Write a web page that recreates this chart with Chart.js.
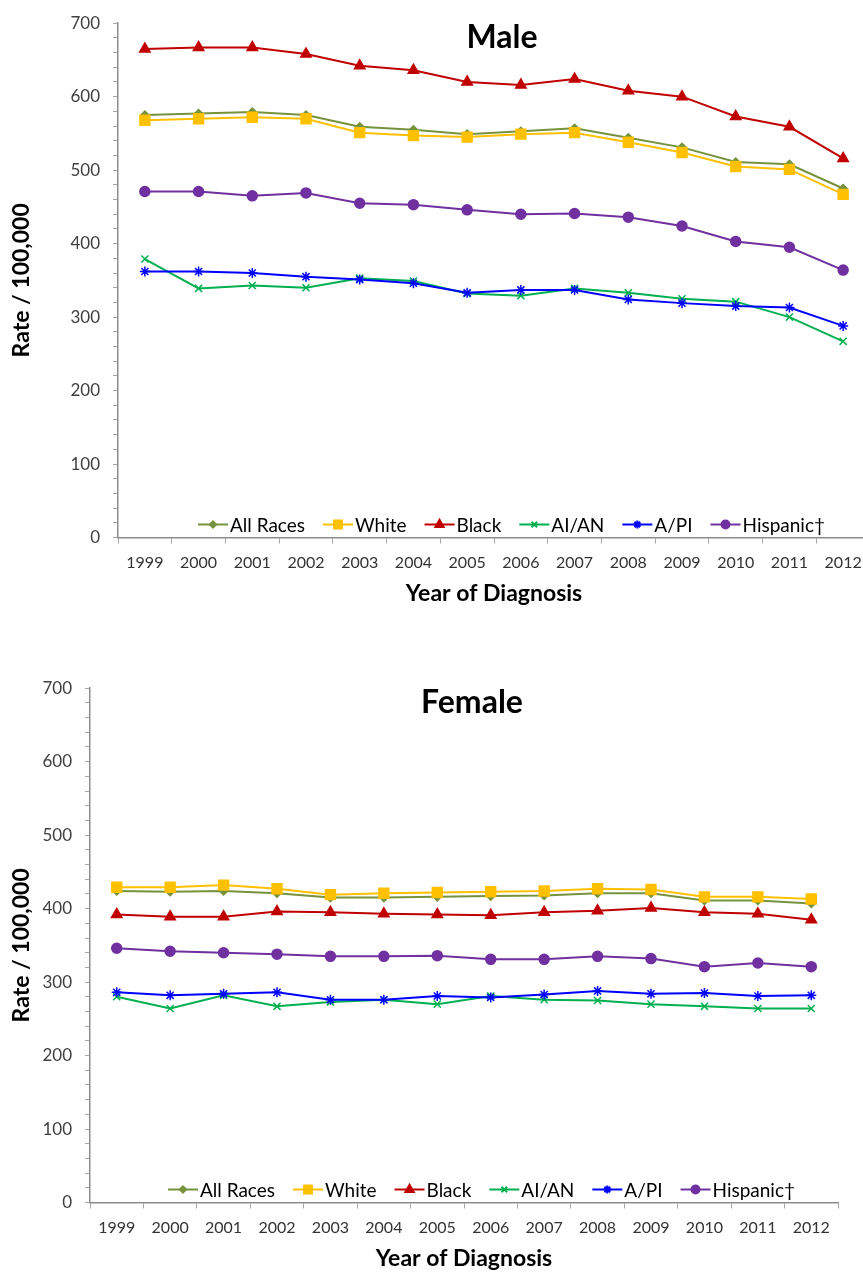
<!DOCTYPE html>
<html>
<head>
<meta charset="utf-8">
<script src="https://cdn.jsdelivr.net/npm/chart.js@4/dist/chart.umd.min.js"></script>
<style>
html, body { margin: 0; padding: 0; background: #fff; overflow: hidden; width: 863px; height: 1272px; }
canvas { position: absolute; left: 0; }
#male { top: 0; }
#female { top: 665px; }
</style>
</head>
<body>
<canvas id="male" width="880" height="610"></canvas>
<canvas id="female" width="863" height="610"></canvas>
<script>
// years and series names
const years = ['1999','2000','2001','2002','2003','2004','2005','2006','2007','2008','2009','2010','2011','2012'];
const seriesNames = ['All Races', 'White', 'Black', 'AI/AN', 'A/PI', 'Hispanic\u2020'];

// male rates per 100,000
const maleAll   = [575, 577, 579, 575, 559, 555, 549, 553, 557, 544, 531, 511, 508, 475];
const maleWhite = [568, 570, 572, 570, 551, 547, 545, 549, 551, 538, 524, 505, 501, 467];
const maleBlack = [665, 667, 667, 658, 642, 636, 620, 616, 624, 608, 600, 573, 559, 516];
const maleAIAN  = [379, 339, 343, 340, 353, 349, 332, 329, 339, 333, 325, 321, 300, 267];
const maleAPI   = [362, 362, 360, 355, 351, 346, 333, 337, 337, 324, 319, 315, 313, 288];
const maleHisp  = [471, 471, 465, 469, 455, 453, 446, 440, 441, 436, 424, 403, 395, 364];

// female rates per 100,000
const femaleAll   = [424, 423, 424, 421, 415, 415, 416, 417, 418, 421, 421, 411, 411, 407];
const femaleWhite = [429, 429, 432, 427, 419, 421, 422, 423, 424, 427, 426, 416, 416, 413];
const femaleBlack = [392, 389, 389, 396, 395, 393, 392, 391, 395, 397, 401, 395, 393, 385];
const femaleAIAN  = [280, 264, 282, 267, 273, 276, 270, 281, 276, 275, 270, 267, 264, 264];
const femaleAPI   = [286, 282, 284, 286, 276, 276, 281, 279, 283, 288, 284, 285, 281, 282];
const femaleHisp  = [346, 342, 340, 338, 335, 335, 336, 331, 331, 335, 332, 321, 326, 321];

const colors = ['#76923C', '#FFC000', '#C00000', '#00B050', '#0000FF', '#7030A0'];
const markers = ['rectRot', 'rect', 'triangle', 'crossRot', 'star', 'circle'];
const radii = [4, 7, 6, 5, 5, 5];

Chart.defaults.font.family = 'Lato, "Open Sans", sans-serif';

// legend drawn inside the plot, near the bottom
const insideLegend = {
  id: 'insideLegend',
  afterDatasetsDraw(chart, args, opts) {
    const ctx = chart.ctx, area = chart.chartArea;
    ctx.save();
    ctx.font = '19px Lato';
    const sets = chart.data.datasets;
    const lineLen = 30, gap = 17;
    const widths = sets.map(ds => lineLen + 3 + ctx.measureText(ds.label).width);
    const total = widths.reduce((a, b) => a + b, 0) + gap * (sets.length - 1);
    let x = (area.left + area.right) / 2 + opts.shift - total / 2;
    const y = area.bottom - opts.lift;
    sets.forEach((ds, i) => {
      ctx.strokeStyle = ds.borderColor;
      ctx.fillStyle = ds.borderColor;
      ctx.lineWidth = 2;
      ctx.beginPath();
      ctx.moveTo(x, y);
      ctx.lineTo(x + lineLen, y);
      ctx.stroke();
      Chart.helpers.drawPoint(ctx, {
        pointStyle: ds.pointStyle, rotation: 0,
        radius: ds.pointRadius * 0.8, borderWidth: 1.5
      }, x + lineLen / 2, y);
      ctx.fillStyle = '#000';
      ctx.textAlign = 'left';
      ctx.textBaseline = 'middle';
      ctx.fillText(ds.label, x + lineLen + 2, y + 1);
      x += widths[i] + gap;
    });
    ctx.restore();
  }
};

// chart title drawn inside the plot area
const innerTitle = {
  id: 'innerTitle',
  afterDraw(chart, args, opts) {
    const ctx = chart.ctx, area = chart.chartArea;
    ctx.save();
    ctx.font = 'bold 32px Lato';
    ctx.fillStyle = '#000';
    ctx.textAlign = 'center';
    ctx.textBaseline = 'alphabetic';
    ctx.fillText(opts.text, (area.left + area.right) / 2 + 8, area.top + 25);
    ctx.restore();
  }
};

function makeChart(id, title, values, yWidth, padRight) {
  const datasets = seriesNames.map((name, i) => ({
    label: name,
    data: values[i],
    borderColor: colors[i],
    backgroundColor: colors[i],
    borderWidth: 2,
    pointStyle: markers[i],
    pointRadius: radii[i],
    pointBorderWidth: 1.5,
    pointBackgroundColor: colors[i],
    pointBorderColor: colors[i],
    tension: 0,
    order: seriesNames.length - i
  }));

  new Chart(document.getElementById(id).getContext('2d'), {
    type: 'line',
    data: { labels: years, datasets: datasets },
    plugins: [insideLegend, innerTitle],
    options: {
      responsive: false,
      animation: false,
      devicePixelRatio: 1,
      layout: { padding: { top: 17, right: padRight, left: 0, bottom: 0 } },
      plugins: {
        legend: { display: false },
        tooltip: { enabled: false },
        insideLegend: { shift: 18, lift: 13 },
        innerTitle: { text: title }
      },
      scales: {
        x: {
          offset: true,
          grid: { offset: true, drawOnChartArea: false, tickLength: 6, color: '#a6a6a6' },
          border: { color: '#8c8c8c', width: 1.5 },
          ticks: { color: '#333', font: { size: 16 }, padding: 10, maxRotation: 0, autoSkip: false },
          title: {
            display: true, text: 'Year of Diagnosis', color: '#000',
            font: { size: 23, weight: 'bold' }, padding: { top: 0, bottom: 3 }
          },
          afterFit: function(scale) { scale.height = 72.5; }
        },
        y: {
          min: 0, max: 700,
          grid: { drawOnChartArea: false, tickLength: 5, color: '#a6a6a6' },
          border: { color: '#8c8c8c', width: 1.5 },
          ticks: {
            stepSize: 20, color: '#404040', font: { size: 17 }, padding: 13, autoSkip: false,
            callback: function(v) { return v % 100 === 0 ? v : ''; }
          },
          title: {
            display: true, text: 'Rate / 100,000', color: '#000',
            font: { size: 23, weight: 'bold' }, padding: { top: 8, bottom: 0 }
          },
          afterFit: function(scale) { scale.width = yWidth; }
        }
      }
    }
  });
}

makeChart('male', 'Male', [maleAll, maleWhite, maleBlack, maleAIAN, maleAPI, maleHisp], 118, 10);
makeChart('female', 'Female', [femaleAll, femaleWhite, femaleBlack, femaleAIAN, femaleAPI, femaleHisp], 90, 25);
</script>
</body>
</html>
